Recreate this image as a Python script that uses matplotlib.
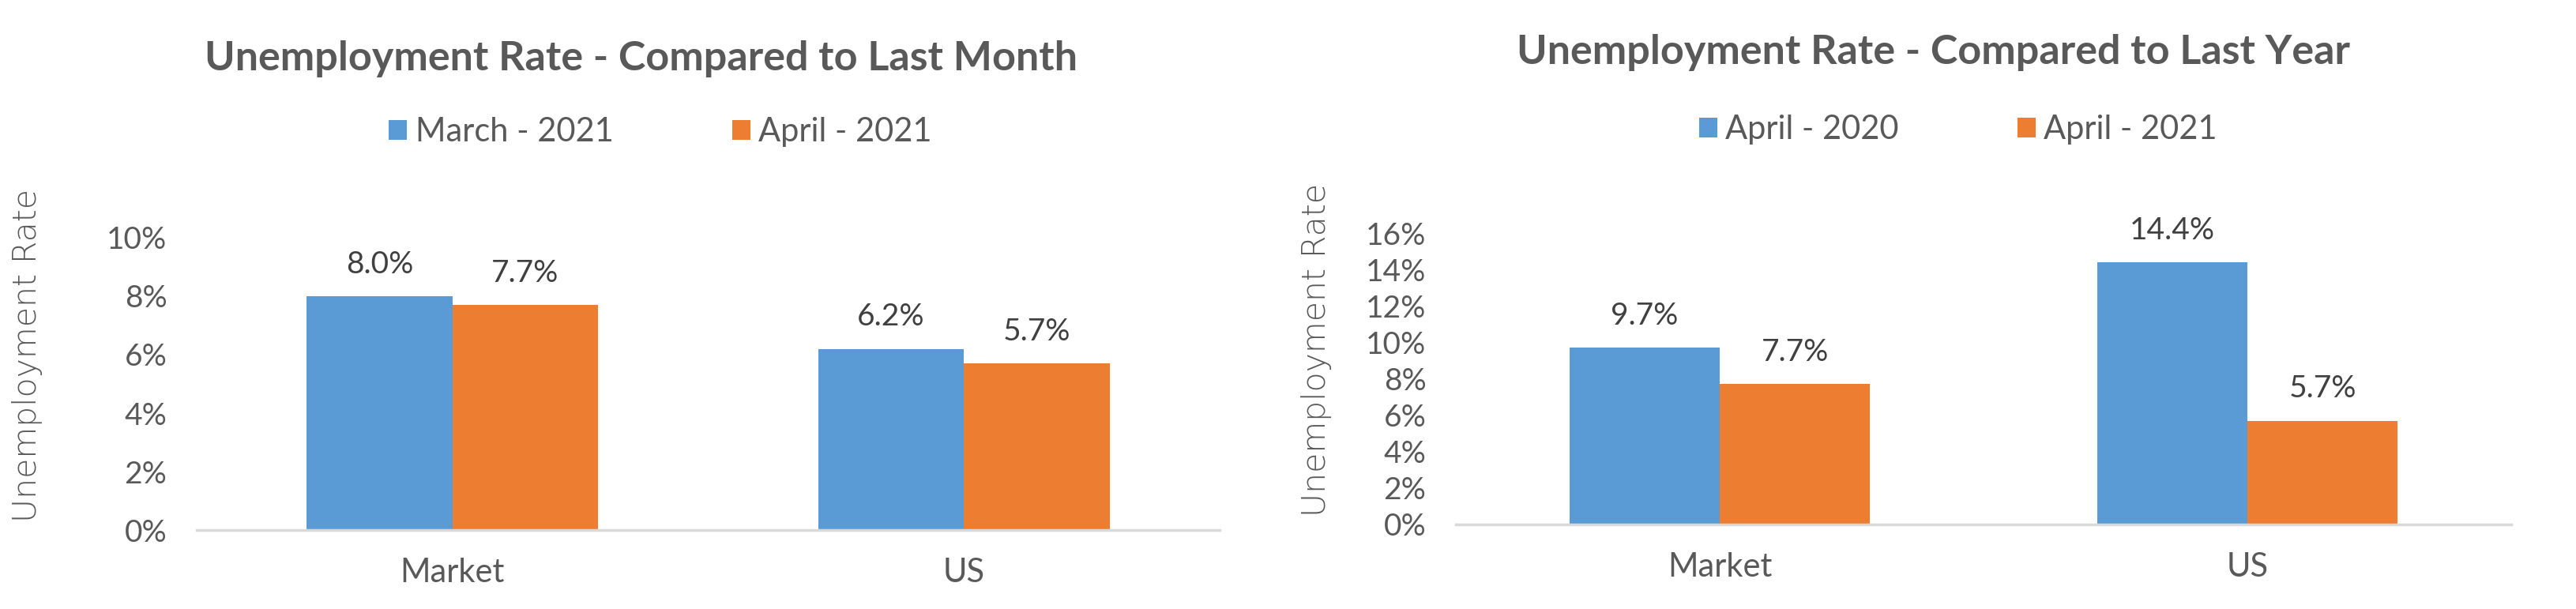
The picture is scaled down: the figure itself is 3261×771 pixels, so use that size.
import matplotlib
matplotlib.use("Agg")
import matplotlib.pyplot as plt
from matplotlib.patches import Patch
import numpy as np

categories = ["Market", "US"]

left_title = "Unemployment Rate - Compared to Last Month"
left_series_names = ["March - 2021", "April - 2021"]
left_values = [[8.0, 6.2], [7.7, 5.7]]
left_yticks = [0, 2, 4, 6, 8, 10]

right_title = "Unemployment Rate - Compared to Last Year"
right_series_names = ["April - 2020", "April - 2021"]
right_values = [[9.7, 14.4], [7.7, 5.7]]
right_yticks = [0, 2, 4, 6, 8, 10, 12, 14, 16]

ylabel = "Unemployment Rate"

BLUE = "#5B9BD5"
ORANGE = "#ED7D31"
TEXT = "#595959"
LABEL = "#404040"
AXIS = "#D9D9D9"
FONT = ["Lato", "DejaVu Sans"]

W, H = 3262, 771
fig = plt.figure(figsize=(W / 100, H / 100), dpi=100)
fig.patch.set_facecolor("white")


def px_axes(x0, x1, ytop, ybot):
    return fig.add_axes([x0 / W, (H - ybot) / H, (x1 - x0) / W, (ybot - ytop) / H])


def draw(ax, title, names, values, yticks, title_xy, legend_xy, ylabel_xy):
    x = np.arange(len(categories))
    bw = 0.285
    colors = [BLUE, ORANGE]
    for i, (vals, c) in enumerate(zip(values, colors)):
        bars = ax.bar(x + (i - 0.5) * bw, vals, width=bw, color=c, edgecolor="none", zorder=2)
        ax.bar_label(bars, labels=[f"{v:.1f}%" for v in vals], padding=16,
                     fontsize=28, color=LABEL, family=FONT)
    ax.set_xlim(-0.5, len(categories) - 0.5)
    ax.set_ylim(yticks[0], yticks[-1])
    ax.set_yticks(yticks)
    ax.set_yticklabels([f"{t}%" for t in yticks], fontsize=28, color=TEXT, family=FONT)
    ax.set_xticks(x)
    ax.set_xticklabels(categories, fontsize=30, color=TEXT, family=FONT)
    ax.tick_params(axis="both", length=0)
    ax.tick_params(axis="y", pad=27)
    ax.tick_params(axis="x", pad=25)
    for s in ["top", "right", "left"]:
        ax.spines[s].set_visible(False)
    ax.spines["bottom"].set_color(AXIS)
    ax.spines["bottom"].set_linewidth(2.5)
    ax.spines["bottom"].set_zorder(3)
    fig.text(title_xy[0] / W, 1 - title_xy[1] / H, title, ha="center", va="center",
             fontsize=37.5, fontweight="bold", color=TEXT, family=FONT)
    handles = [Patch(facecolor=c, edgecolor="none") for c in colors]
    fig.legend(handles, names, loc="center", bbox_to_anchor=(legend_xy[0] / W, 1 - legend_xy[1] / H),
               ncol=2, frameon=False, handlelength=0.55, handleheight=0.55,
               handletextpad=0.25, columnspacing=3.6,
               prop={"family": FONT, "size": 30}, labelcolor=TEXT)
    fig.text(ylabel_xy[0] / W, 1 - ylabel_xy[1] / H, ylabel, rotation=90, ha="center", va="center",
             fontsize=29.5, color=TEXT, family=["DejaVu Sans"], fontweight="light")


axL = px_axes(249, 1544, 301, 671)
draw(axL, left_title, left_series_names, left_values, left_yticks,
     (812, 74), (836, 167), (35, 450))

axR = px_axes(1843, 3179, 295, 664)
draw(axR, right_title, right_series_names, right_values, right_yticks,
     (2448, 66), (2479, 164), (1667, 443))

fig.savefig("out.png", dpi=100, facecolor="white")
